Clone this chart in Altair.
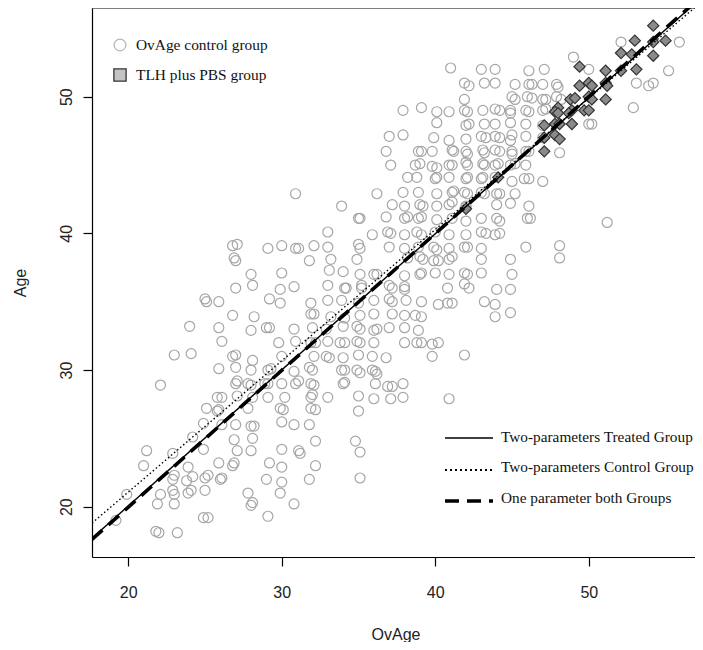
import altair as alt
import pandas as pd

# ---------------- data ----------------
x_ticks = [20, 30, 40, 50]
y_ticks = [20, 30, 40, 50]
x_domain = [17.64, 56.92]
y_domain = [16.32, 56.49]

# OvAge control group (OvAge, Age)
control_points = [
    (52.1,54.0),(55.9,54.0),(49.0,52.9),(50.0,52.0),(41.0,52.1),(43.0,52.0),(43.9,52.0),(46.1,51.9),(47.1,52.0),(55.2,51.9),
    (41.9,51.0),(42.2,50.8),(43.2,51.0),(43.9,51.0),(45.2,50.9),(46.1,50.9),(46.3,50.9),(47.0,50.9),(47.9,50.9),(48.0,50.7),(53.1,51.0),(53.9,50.8),(54.2,51.0),
    (41.9,49.8),(45.0,50.0),(45.2,49.8),(46.0,50.0),(46.3,49.9),(47.0,49.8),(47.2,49.8),(47.9,50.0),(48.2,49.8),
    (37.9,49.0),(39.1,49.2),(40.1,48.9),(40.9,48.9),(41.9,49.0),(42.1,48.9),(43.1,49.0),(43.9,49.1),(44.2,49.0),(44.9,49.0),(44.9,48.8),(45.9,49.0),(46.1,48.9),(47.0,49.0),(47.2,49.1),(52.9,49.2),
    (50.0,48.0),(50.2,48.0),(40.1,48.1),(42.2,48.0),(42.0,47.9),(43.2,48.0),(43.9,48.0),(44.9,48.1),(45.9,48.0),(47.0,47.9),
    (37.0,47.1),(37.9,47.2),(39.9,47.0),(40.9,46.8),(42.0,46.9),(43.0,47.1),(43.3,47.0),(43.9,47.1),(44.2,47.0),(45.0,47.2),(44.9,46.8),(45.9,47.1),(47.0,47.0),(48.1,45.9),
    (36.8,46.0),(38.9,46.0),(39.1,46.0),(39.8,46.0),(41.1,46.1),(41.2,46.0),(42.0,46.0),(42.1,45.8),(43.1,46.1),(43.2,45.9),(43.9,46.1),(44.2,46.0),(45.0,46.0),(45.0,45.8),(45.9,46.0),(46.1,46.0),
    (37.1,45.0),(38.7,45.0),(39.0,45.1),(39.8,44.9),(40.1,44.8),(40.9,45.0),(41.1,45.0),(42.0,45.2),(42.1,45.0),(43.1,45.1),(43.2,45.0),(43.9,45.0),(44.1,45.1),(44.9,45.0),(45.2,45.1),(45.9,45.0),
    (38.2,44.1),(38.8,44.1),(40.0,44.0),(40.1,44.1),(40.9,44.1),(42.0,44.0),(42.1,44.1),(43.0,44.0),(43.1,44.1),(43.9,44.1),(45.0,43.8),(45.8,44.0),(46.1,44.0),(47.0,43.8),
    (36.2,42.9),(37.9,43.0),(38.9,43.0),(40.1,42.9),(41.1,43.0),(41.2,43.1),(41.9,43.0),(42.1,42.9),(43.0,43.0),(43.2,42.9),(44.0,42.9),(44.2,42.9),(45.2,42.9),(30.9,42.9),
    (33.9,42.0),(37.2,42.1),(38.0,42.0),(39.0,42.1),(39.2,42.0),(40.1,42.0),(40.9,42.1),(41.1,42.3),(42.0,41.9),(44.0,42.1),(44.9,42.2),(46.1,42.0),(51.2,40.8),(42.0,42.0),
    (35.0,41.1),(35.1,41.1),(36.8,41.2),(38.0,41.1),(38.2,41.2),(38.9,41.1),(39.1,41.2),(40.1,41.0),(41.1,41.1),(42.0,40.9),(43.0,41.1),(44.0,41.1),(44.2,40.9),(46.0,41.1),(46.2,41.1),
    (33.0,40.1),(35.9,39.9),(36.9,40.1),(37.1,40.0),(38.0,39.9),(38.8,40.1),(39.1,39.9),(40.0,40.1),(40.9,39.9),(42.0,39.9),(43.0,40.1),(43.3,40.0),(43.9,39.9),(44.2,40.0),
    (26.8,39.1),(27.1,39.2),(29.1,38.9),(30.0,39.1),(30.9,38.9),(31.1,38.9),(32.1,39.1),(33.0,39.0),(35.0,39.2),(35.1,38.9),(37.0,39.0),(38.0,38.9),(38.9,39.0),(39.9,39.0),(40.1,38.8),(40.9,38.9),(41.9,39.0),(42.1,39.0),(43.0,38.9),(45.9,39.0),(48.1,39.1),
    (26.9,38.2),(27.0,38.0),(31.8,38.0),(33.2,38.1),(34.9,38.1),(38.2,38.2),(39.0,38.3),(39.2,38.1),(39.9,38.0),(40.2,38.0),(40.9,38.1),(41.1,38.3),(43.0,38.1),(44.9,38.1),(48.1,38.2),
    (28.0,37.0),(30.0,37.1),(33.1,37.3),(34.0,37.2),(35.1,37.0),(36.0,37.0),(36.2,37.0),(38.0,36.9),(39.1,37.1),(39.0,37.0),(40.0,37.1),(40.9,37.0),(41.9,37.1),(42.1,37.0),(43.0,37.1),(45.0,37.0),
    (27.0,36.0),(28.1,36.2),(29.9,35.9),(30.8,36.1),(33.0,36.2),(34.1,36.0),(34.2,36.0),(35.2,36.2),(35.2,36.0),(37.0,36.2),(37.2,36.0),(38.0,36.1),(38.0,35.9),(40.8,36.0),(41.9,36.3),(42.2,36.0),(44.0,35.9),(44.9,35.9),
    (25.0,35.2),(25.1,35.0),(25.9,35.0),(29.9,34.9),(29.2,35.2),(31.9,34.9),(33.0,35.1),(33.9,35.1),(35.0,34.9),(36.0,35.1),(37.0,35.2),(37.2,35.0),(38.1,35.1),(39.1,35.0),(40.2,34.8),(40.8,34.9),(41.1,34.9),(43.2,35.0),(43.9,34.8),(44.9,34.2),
    (26.8,34.0),(28.2,33.9),(31.9,34.1),(32.1,34.1),(33.2,33.9),(34.1,33.8),(35.1,34.0),(36.0,34.1),(37.2,34.1),(38.0,34.0),(38.7,34.0),(39.1,33.9),(43.9,33.9),(24.0,33.2),
    (25.9,33.1),(28.0,32.9),(29.0,33.1),(29.2,33.1),(30.8,33.0),(32.0,33.1),(32.9,33.0),(34.0,33.2),(34.9,33.2),(35.1,33.0),(36.0,32.9),(36.2,33.0),(37.0,33.1),(38.0,33.1),(38.9,32.9),
    (26.1,32.1),(29.8,32.0),(30.9,32.1),(31.9,32.0),(32.2,32.0),(33.0,32.1),(33.8,32.0),(34.1,32.0),(34.9,32.1),(35.1,32.0),(36.0,32.0),(38.0,32.0),(38.8,32.0),(39.1,32.0),(39.8,31.9),(40.2,32.0),
    (23.0,31.1),(24.1,31.2),(26.8,31.0),(27.0,31.1),(28.1,30.7),(30.0,31.0),(32.1,31.0),(32.9,31.0),(33.1,30.9),(34.0,30.9),(35.0,31.1),(35.9,31.0),(36.8,30.9),(39.8,31.0),(41.9,31.1),
    (25.9,30.1),(27.0,30.2),(28.0,30.0),(29.1,30.0),(29.3,30.1),(30.8,29.9),(31.8,30.2),(32.0,30.0),(33.9,30.0),(34.1,30.0),(34.9,30.0),(35.1,29.8),(35.9,30.0),(36.1,29.9),(36.2,29.7),
    (27.0,29.0),(27.1,29.2),(27.8,29.0),(28.0,28.9),(28.9,29.0),(29.1,29.0),(30.0,29.0),(30.9,29.0),(31.1,29.2),(31.9,29.0),(32.1,28.9),(34.0,29.0),(34.1,29.1),(36.1,29.0),(36.9,28.8),(37.2,28.8),(37.9,29.0),(22.1,28.9),
    (25.8,28.0),(26.1,28.0),(27.1,28.1),(28.1,28.0),(29.1,28.0),(30.2,28.0),(31.9,28.0),(32.0,28.2),(33.0,28.0),(35.0,28.1),(36.0,27.9),(37.1,27.9),(37.9,28.0),(40.9,27.9),
    (25.1,27.2),(25.8,27.0),(25.9,27.1),(27.8,27.2),(29.9,27.2),(30.1,27.1),(31.9,27.2),(32.2,27.1),(35.0,27.0),
    (24.9,26.1),(26.1,26.0),(27.0,26.0),(28.0,25.9),(28.2,25.9),(30.0,26.2),(30.8,26.0),(31.8,26.0),
    (24.2,25.1),(26.9,24.9),(28.1,25.0),(32.2,24.8),(34.8,24.8),(24.9,24.2),(27.1,24.1),(28.0,24.1),(30.0,24.2),(31.1,24.1),(31.2,23.9),(35.1,24.0),(21.2,24.1),(22.9,23.9),
    (23.9,22.9),(25.9,23.2),(26.8,23.0),(26.9,23.2),(29.2,23.2),(30.0,22.9),(32.2,23.0),(21.0,23.0),
    (22.9,22.0),(23.0,22.3),(23.8,21.9),(24.2,22.2),(25.0,22.1),(25.2,22.3),(26.0,22.0),(26.1,22.1),(29.0,22.0),(30.0,21.8),(31.8,22.0),(35.1,22.1),
    (22.9,21.2),(22.1,20.9),(23.0,20.9),(23.9,21.0),(24.1,21.2),(25.0,21.2),(27.8,21.0),(29.9,21.0),(19.9,20.9),
    (21.9,20.2),(23.0,20.2),(28.0,20.1),(28.1,20.3),(30.8,20.2),
    (24.9,19.2),(25.2,19.2),(29.1,19.3),(19.2,19.0),(21.8,18.2),(22.0,18.1),(23.2,18.1),
]

# TLH plus PBS group (OvAge, Age)
treated_points = [
    (54.2,55.2),(53.0,54.1),(54.2,54.0),(55.0,54.1),(52.1,53.2),(52.8,53.1),(54.2,53.0),(49.4,52.2),(53.1,52.0),(51.1,51.9),
    (52.1,51.9),(49.4,50.8),(50.0,51.0),(50.2,50.8),(51.1,51.0),(51.2,50.8),(48.8,49.8),(49.1,49.9),(50.0,50.0),(50.2,49.8),
    (51.1,49.8),(48.0,49.2),(47.8,48.9),(48.9,49.0),(49.7,49.0),(50.0,49.0),(47.8,48.0),(47.1,47.9),(48.1,48.0),(48.9,48.0),
    (47.1,47.0),(47.8,47.2),(48.1,46.9),(47.1,46.0),(44.1,44.1),(42.0,41.8),(48.0,48.8),(48.7,48.8),
]

# fitted lines: end points
line_x = [17.64, 57.4]
treated_fit_y = [17.7, 57.3]
control_fit_y = [18.8, 57.0]
both_fit_y = [17.6, 57.4]

# ---------------- layout ----------------
W, H = 603, 549
SERIF = "Liberation Serif"
SANS = "Liberation Sans"

ctrl = pd.DataFrame(control_points, columns=["OvAge", "Age"])
trt = pd.DataFrame(treated_points, columns=["OvAge", "Age"])

xscale = alt.Scale(domain=x_domain, nice=False, zero=False)
yscale = alt.Scale(domain=y_domain, nice=False, zero=False)

x_axis = alt.Axis(
    values=x_ticks, title="OvAge", grid=False,
    labelFont=SANS, labelFontSize=16, labelColor="#222", labelPadding=18,
    tickSize=9, tickColor="black", tickWidth=1.2,
    domainColor="black", domainWidth=1.2,
    titleFont=SANS, titleFontSize=16, titleFontWeight="normal", titleColor="#222",
    titleX=W / 2 + 2, titleY=77, titleAlign="center", titleBaseline="middle",
)
y_axis = alt.Axis(
    values=y_ticks, title="Age", grid=False,
    labelFont=SANS, labelFontSize=16, labelColor="#222", labelPadding=17,
    labelAngle=270, labelAlign="center", labelBaseline="middle",
    tickSize=9, tickColor="black", tickWidth=1.2,
    domainColor="black", domainWidth=1.2,
    titleFont=SANS, titleFontSize=16, titleFontWeight="normal", titleColor="#222",
    titleAngle=270, titleX=-72, titleY=H / 2, titleAlign="center", titleBaseline="middle",
)

circles = alt.Chart(ctrl).mark_point(
    shape="circle", filled=False, size=100, strokeWidth=1.2, color="#a6a6a6", opacity=1
).encode(
    x=alt.X("OvAge:Q", scale=xscale, axis=x_axis),
    y=alt.Y("Age:Q", scale=yscale, axis=y_axis),
)

diamonds = alt.Chart(trt).mark_point(
    shape="diamond", filled=True, size=125, fill="#8a8a8a", stroke="#333333",
    strokeWidth=1.2, opacity=1, fillOpacity=1
).encode(x=alt.X("OvAge:Q", scale=xscale), y=alt.Y("Age:Q", scale=yscale))


def fit_line(ys, dash, width):
    df = pd.DataFrame({"OvAge": line_x, "Age": ys})
    props = dict(color="black", strokeWidth=width, clip=True)
    if dash:
        props["strokeDash"] = dash
    return alt.Chart(df).mark_line(**props).encode(
        x=alt.X("OvAge:Q", scale=xscale), y=alt.Y("Age:Q", scale=yscale)
    )


both_line = fit_line(both_fit_y, [14, 8], 3.6)
control_line = fit_line(control_fit_y, [1.5, 2.5], 1.4)
treated_line = fit_line(treated_fit_y, None, 1.4)

# top border of the box
top_border = alt.Chart(pd.DataFrame({"k": [0]})).mark_rule(color="black", strokeWidth=1.2).encode(
    x=alt.value(0), x2=alt.value(W), y=alt.value(0)
)

# ---------------- legends ----------------
def legend_text(label, px, py, size=15.4):
    return alt.Chart(pd.DataFrame({"t": [label]})).mark_text(
        align="left", baseline="middle", font=SERIF, fontSize=size, color="#111"
    ).encode(text="t:N", x=alt.value(px), y=alt.value(py))


one = pd.DataFrame({"k": [0]})
leg_circle = alt.Chart(one).mark_point(
    shape="circle", filled=False, size=140, strokeWidth=1.2, color="#b5b5b5", opacity=1
).encode(x=alt.value(28), y=alt.value(37))
leg_square = alt.Chart(one).mark_point(
    shape="square", filled=True, size=150, fill="#c4c4c4", stroke="#333", strokeWidth=1.3, opacity=1
).encode(x=alt.value(28), y=alt.value(67))


def legend_rule(py, dash, width):
    props = dict(color="black", strokeWidth=width)
    if dash:
        props["strokeDash"] = dash
    return alt.Chart(one).mark_rule(**props).encode(
        x=alt.value(353), x2=alt.value(401), y=alt.value(py)
    )


legend_layers = [
    leg_circle, leg_square,
    legend_text("OvAge control group", 44, 37),
    legend_text("TLH plus PBS group", 44, 67),
    legend_rule(430, None, 1.6),
    legend_rule(462, [2, 3], 2.2),
    legend_rule(493, [14, 8], 3.6),
    legend_text("Two-parameters Treated Group", 409, 429, 15.3),
    legend_text("Two-parameters Control Group", 409, 459, 15.3),
    legend_text("One parameter both Groups", 409, 490, 15.3),
]

chart = alt.layer(
    circles, diamonds, both_line, control_line, treated_line, top_border, *legend_layers
).properties(
    width=W, height=H,
    padding={"left": 84, "top": 0, "right": 0, "bottom": 85},
    autosize=alt.AutoSizeParams(type="none"),
    background="white",
).configure_view(stroke=None)

chart.save("out.html", embed_options={"renderer": "svg", "actions": False})
